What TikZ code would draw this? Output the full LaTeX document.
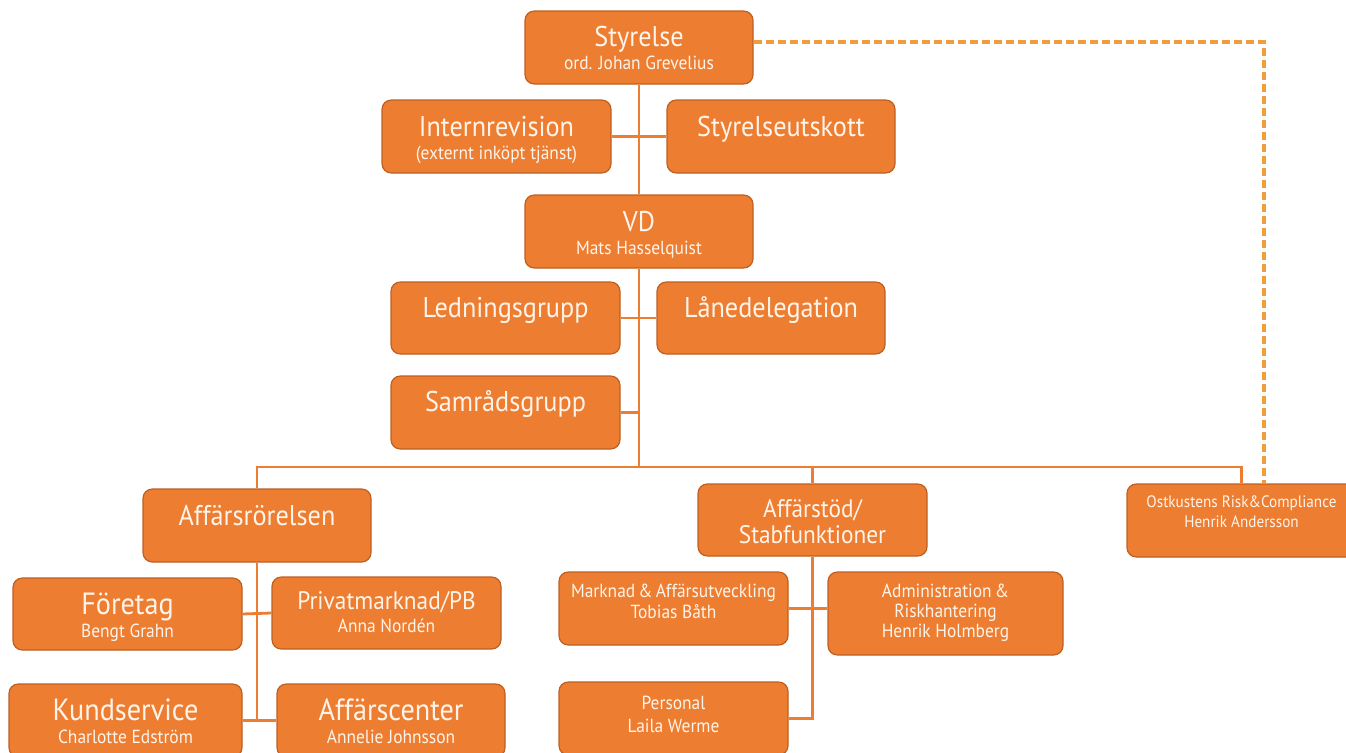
\documentclass[tikz,border=0pt]{standalone}
\usepackage{fontspec}
\setmainfont{PT Sans}[FakeStretch=0.92]
\usetikzlibrary{fit}
\definecolor{org}{HTML}{ED7D31}
\definecolor{orgdark}{HTML}{BE5F22}
\definecolor{dashc}{HTML}{F39C3C}
\definecolor{txt}{HTML}{FFF4EA}
\tikzset{
  box/.style={draw=orgdark, fill=org, line width=0.9pt, rounded corners=7pt, inner sep=0pt},
  conn/.style={draw=org, line width=2.1pt},
  dline/.style={draw=dashc, line width=2.3pt, dash pattern=on 6pt off 3pt},
  lbl/.style={text=txt, inner sep=0pt, anchor=base},
  ttl/.style={lbl, font=\fontsize{21.4pt}{25pt}\selectfont},
  bigt/.style={lbl, font=\fontsize{23pt}{27pt}\selectfont},
  midt/.style={lbl, font=\fontsize{19pt}{23pt}\selectfont},
  subt/.style={lbl, font=\fontsize{14.2pt}{17pt}\selectfont},
  tinyt/.style={lbl, font=\fontsize{12.4pt}{15pt}\selectfont},
}
\begin{document}
\begin{tikzpicture}[x=0.75pt,y=-0.75pt]
\useasboundingbox (0,0) rectangle (1346,753);
% boxes
\node[box, fit={(525,11) (753,84)}] (sty) {};
\node[box, fit={(382,100) (611,173)}] (intr) {};
\node[box, fit={(667,100) (895,173)}] (utsk) {};
\node[box, fit={(525,195) (753,268)}] (vd) {};
\node[box, fit={(391,282) (620,354)}] (led) {};
\node[box, fit={(657,282) (885,354)}] (lan) {};
\node[box, fit={(391,376) (620,449)}] (sam) {};
\node[box, fit={(143,489) (371,562)}] (aff) {};
\node[box, fit={(698,484) (927,556)}] (stod) {};
\node[box, fit={(1127,484) (1356,557)}] (ost) {};
\node[box, fit={(13,578) (242,650)}] (for) {};
\node[box, fit={(272,577) (501,649)}] (priv) {};
\node[box, fit={(9,684) (242,757)}] (kund) {};
\node[box, fit={(277,684) (505,757)}] (affc) {};
\node[box, fit={(559,572) (788,645)}] (mark) {};
\node[box, fit={(828,572) (1063,655)}] (adm) {};
\node[box, fit={(559,682) (788,755)}] (pers) {};
% connectors
\coordinate (bus) at (0,467);
\coordinate (dc) at (1264,42);
\draw[conn] (sty.south) -- (vd.north);
\draw[conn] (intr.east) -- (utsk.west);
\draw[conn] (vd.south) -- (vd.south |- bus);
\draw[conn] (led.east) -- (lan.west);
\draw[conn] (sam.east) -- (sam.east -| vd.south);
\draw[conn] (aff.north) -- (aff.north |- bus) -- (ost.north |- bus) -- (ost.north);
\draw[conn] (stod.north) -- (stod.north |- bus);
\draw[conn] (aff.south) -- (aff.south |- kund.east);
\draw[conn] (for.east) -- (priv.west);
\draw[conn] (kund.east) -- (affc.west);
\draw[conn] (stod.south) -- (stod.south |- pers.east) -- (pers.east);
\draw[conn] (mark.east) -- (adm.west |- mark.east);
\draw[dline] (sty.east |- dc) -- (dc) -- (dc |- ost.north);
% texts
\node[ttl] (styT) at (639,46.7) {Styrelse};
\node[subt] (styS) at (639,69) {ord. Johan Grevelius};
\node[ttl] (intrT) at (496.5,136) {Internrevision};
\node[subt] (intrS) at (496.5,159) {(externt inköpt tjänst)};
\node[ttl] (utskT) at (781,136) {Styrelseutskott};
\node[ttl] (vdT) at (639,231.5) {VD};
\node[subt] (vdS) at (639,254) {Mats Hasselquist};
\node[ttl] (ledT) at (505.5,317) {Ledningsgrupp};
\node[ttl] (lanT) at (771,317) {Lånedelegation};
\node[ttl] (samT) at (505.5,411) {Samrådsgrupp};
\node[ttl] (affT) at (257,525) {Affärsrörelsen};
\node[midt] (stodT1) at (812.5,517) {Affärstöd/};
\node[midt] (stodT2) at (812.5,543) {Stabfunktioner};
\node[tinyt] (ostT1) at (1241.5,507) {Ostkustens Risk\&Compliance};
\node[tinyt] (ostT2) at (1241.5,527) {Henrik Andersson};
\node[bigt] (forT) at (127.5,614) {Företag};
\node[subt] (forS) at (127.5,637) {Bengt Grahn};
\node[midt] (privT) at (386.5,609) {Privatmarknad/PB};
\node[subt] (privS) at (386.5,632) {Anna Nordén};
\node[bigt] (kundT) at (125.5,720) {Kundservice};
\node[subt] (kundS) at (125.5,743) {Charlotte Edström};
\node[bigt] (affcT) at (391,720) {Affärscenter};
\node[subt] (affcS) at (391,743) {Annelie Johnsson};
\node[subt] (markT1) at (673.5,597) {Marknad\,\&\,Affärsutveckling};
\node[subt] (markT2) at (673.5,618) {Tobias Båth};
\node[subt] (admT1) at (945.5,597) {Administration\,\&};
\node[subt] (admT2) at (945.5,617) {Riskhantering};
\node[subt] (admT3) at (945.5,637) {Henrik Holmberg};
\node[subt] (persT1) at (673.5,709) {Personal};
\node[subt] (persT2) at (673.5,732) {Laila Werme};
\end{tikzpicture}
\end{document}
